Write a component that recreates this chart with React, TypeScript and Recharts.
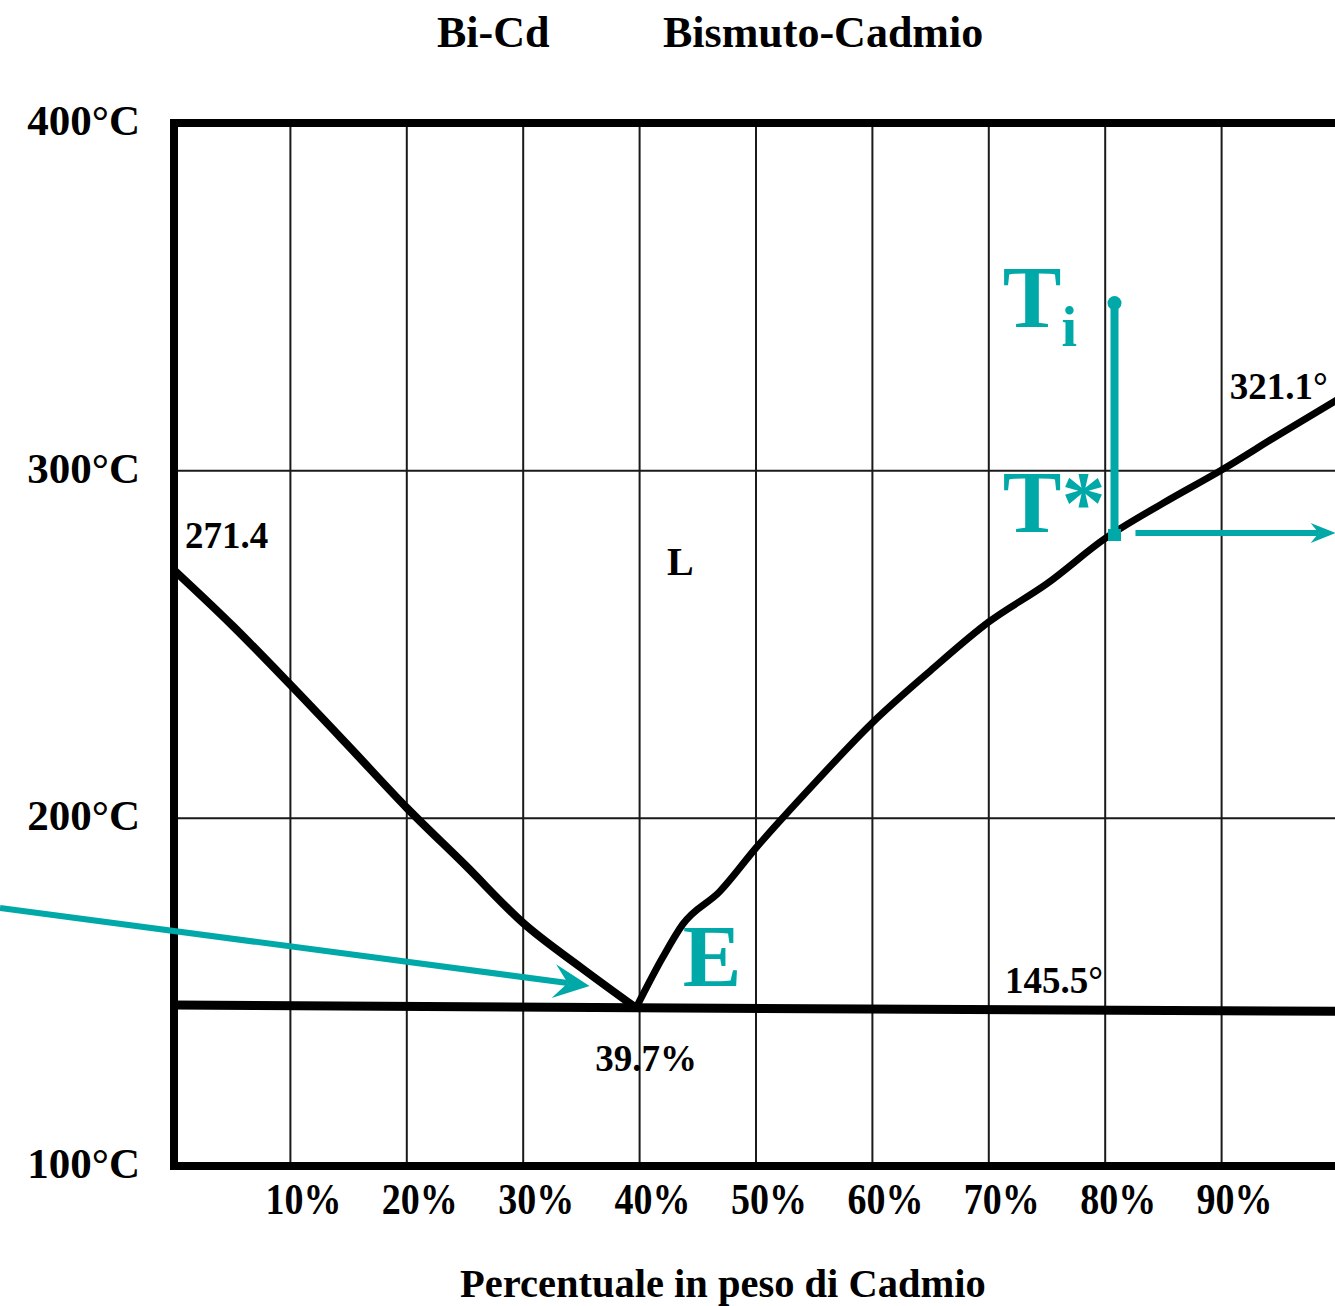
import React from 'react';
import {
  LineChart,
  Line,
  XAxis,
  YAxis,
  CartesianGrid,
  ReferenceLine,
  ReferenceDot,
} from 'recharts';

const FONT = "'Liberation Serif', 'Times New Roman', serif";
const TEAL = '#00a8a8';

// axis ticks
const xTicks = [10, 20, 30, 40, 50, 60, 70, 80, 90];
const yTicks = [100, 200, 300, 400];

// liquidus Bi side (x = % Cd, t = °C)
const leftLiquidus = [
  { x: 0, t: 271.4 },
  { x: 5, t: 255.5 },
  { x: 10, t: 238.4 },
  { x: 15, t: 220.8 },
  { x: 20, t: 203.0 },
  { x: 25, t: 186.6 },
  { x: 30, t: 169.9 },
  { x: 35, t: 157.0 },
  { x: 39.7, t: 145.5 },
];

// liquidus Cd side
const rightLiquidus = [
  { x: 39.7, t: 145.5 },
  { x: 42.0, t: 160.1 },
  { x: 43.7, t: 169.5 },
  { x: 46.9, t: 179.0 },
  { x: 50, t: 191.5 },
  { x: 55, t: 210.0 },
  { x: 60, t: 227.5 },
  { x: 65, t: 242.5 },
  { x: 70, t: 256.5 },
  { x: 75, t: 267.5 },
  { x: 80, t: 280.5 },
  { x: 85, t: 290.7 },
  { x: 90, t: 300.2 },
  { x: 95, t: 310.5 },
  { x: 100, t: 320.5 },
];

// eutectic horizontal
const eutecticLine = [
  { x: 0, t: 146.3 },
  { x: 39.7, t: 145.5 },
  { x: 100, t: 144.5 },
];

// teal annotations
const coolingPath = [
  { x: 80.8, t: 348.2 },
  { x: 80.8, t: 281.5 },
];
const exitArrow = [
  { x: 82.6, t: 282.1 },
  { x: 99.8, t: 282.1 },
];
const eutecticArrow = [
  { x: -14.95, t: 174.2 },
  { x: 35.7, t: 151.8 },
];

const annotations = [
  { text: '271.4', x: 0.95, t: 277.8, size: 37, color: '#000' },
  { text: '321.1°', x: 90.7, t: 320.6, size: 37, color: '#000' },
  { text: '145.5°', x: 71.4, t: 149.8, size: 37, color: '#000' },
  { text: '39.7%', x: 36.2, t: 127.4, size: 37, color: '#000' },
  { text: 'L', x: 42.35, t: 270.0, size: 40, color: '#000' },
  { text: 'E', x: 43.7, t: 151.8, size: 88, color: TEAL },
  { text: 'T', sub: 'i', x: 71.2, t: 341.3, size: 88, color: TEAL },
  { text: 'T*', x: 71.2, t: 282.4, size: 88, color: TEAL },
];

function unit(x1: number, y1: number, x2: number, y2: number) {
  const d = Math.hypot(x2 - x1, y2 - y1) || 1;
  return [(x2 - x1) / d, (y2 - y1) / d];
}

const makeArrow = (len: number, half: number, notch: number, width: number) => (props: any) => {
  const { x1, y1, x2, y2 } = props;
  const [ux, uy] = unit(x1, y1, x2, y2);
  const px = -uy;
  const py = ux;
  const bx = x2 - ux * len;
  const by = y2 - uy * len;
  const nx = x2 - ux * (len - notch);
  const ny = y2 - uy * (len - notch);
  const d = `M${x2},${y2} L${bx + px * half},${by + py * half} L${nx},${ny} L${bx - px * half},${by - py * half} Z`;
  return (
    <g>
      <line x1={x1} y1={y1} x2={nx} y2={ny} stroke={TEAL} strokeWidth={width} />
      <path d={d} fill={TEAL} />
    </g>
  );
};

const CoolingShape = (props: any) => {
  const { x1, y1, x2, y2 } = props;
  return (
    <g>
      <line x1={x1} y1={y1} x2={x2} y2={y2} stroke={TEAL} strokeWidth={8} />
      <circle cx={x1} cy={y1} r={7} fill={TEAL} />
      <rect x={x2 - 6.5} y={y2 - 6} width={13} height={12} fill={TEAL} />
    </g>
  );
};

const XTick = (props: any) => {
  const { x, y, payload } = props;
  return (
    <text
      x={x + 13}
      y={y + 48}
      textAnchor="middle"
      fontFamily={FONT}
      fontWeight="bold"
      fontSize={44}
      textLength={76}
      lengthAdjust="spacingAndGlyphs"
      fill="#000"
    >
      {`${payload.value}%`}
    </text>
  );
};

const YTick = (props: any) => {
  const { x, y, payload } = props;
  return (
    <text
      x={x - 34}
      y={y + 12}
      textAnchor="end"
      fontFamily={FONT}
      fontWeight="bold"
      fontSize={43}
      fill="#000"
    >
      {`${payload.value}°C`}
    </text>
  );
};

const annotationShape = (a: any) => (p: any) => (
  <text x={p.cx} y={p.cy} fontFamily={FONT} fontWeight="bold" fontSize={a.size} fill={a.color}>
    {a.text}
    {a.sub ? (
      <tspan fontSize={56} dy={19}>
        {a.sub}
      </tspan>
    ) : null}
  </text>
);

export default function App() {
  return (
    <div
      style={{
        position: 'absolute',
        left: 0,
        top: 0,
        width: 1335,
        height: 1306,
        overflow: 'hidden',
        background: '#fff',
      }}
    >
      <LineChart width={1345} height={1306} margin={{ top: 123, right: 7, bottom: 80, left: 114 }}>
        <CartesianGrid stroke="#1a1a1a" strokeWidth={2} />
        <XAxis
          type="number"
          dataKey="x"
          domain={[0, 100]}
          ticks={xTicks}
          tick={XTick}
          axisLine={false}
          tickLine={false}
          tickSize={0}
          tickMargin={0}
          height={60}
        />
        <YAxis
          type="number"
          dataKey="t"
          domain={[100, 400]}
          ticks={yTicks}
          tick={YTick}
          axisLine={false}
          tickLine={false}
          tickSize={0}
          tickMargin={0}
          width={60}
        />

        <ReferenceLine y={400} stroke="#000" strokeWidth={8} strokeLinecap="square" />
        <ReferenceLine y={100} stroke="#000" strokeWidth={8} strokeLinecap="square" />
        <ReferenceLine x={0} stroke="#000" strokeWidth={8} strokeLinecap="square" />

        <Line data={eutecticLine} dataKey="t" type="linear" stroke="#000" strokeWidth={9} dot={false} activeDot={false} isAnimationActive={false} />
        <Line data={leftLiquidus} dataKey="t" type="monotone" stroke="#000" strokeWidth={8} dot={false} activeDot={false} isAnimationActive={false} />
        <Line data={rightLiquidus} dataKey="t" type="monotone" stroke="#000" strokeWidth={7} dot={false} activeDot={false} isAnimationActive={false} />

        <ReferenceLine
          segment={[{ x: eutecticArrow[0].x, y: eutecticArrow[0].t }, { x: eutecticArrow[1].x, y: eutecticArrow[1].t }]}
          ifOverflow="visible"
          shape={makeArrow(36, 17, 14, 6)}
        />
        <ReferenceLine
          segment={[{ x: coolingPath[0].x, y: coolingPath[0].t }, { x: coolingPath[1].x, y: coolingPath[1].t }]}
          ifOverflow="visible"
          shape={CoolingShape}
        />
        <ReferenceLine
          segment={[{ x: exitArrow[0].x, y: exitArrow[0].t }, { x: exitArrow[1].x, y: exitArrow[1].t }]}
          ifOverflow="visible"
          shape={makeArrow(25, 10, 8, 6)}
        />

        {annotations.map((a, i) => (
          <ReferenceDot key={i} x={a.x} y={a.t} r={1} ifOverflow="visible" shape={annotationShape(a)} />
        ))}
      </LineChart>

      <svg
        width={1335}
        height={1306}
        style={{ position: 'absolute', left: 0, top: 0, pointerEvents: 'none' }}
      >
        <text x={437} y={47} fontFamily={FONT} fontWeight="bold" fontSize={44} fill="#000">
          Bi-Cd
        </text>
        <text x={663} y={47} fontFamily={FONT} fontWeight="bold" fontSize={44} fill="#000">
          Bismuto-Cadmio
        </text>
        <text x={460} y={1297} fontFamily={FONT} fontWeight="bold" fontSize={40.5} fill="#000">
          Percentuale in peso di Cadmio
        </text>
      </svg>
    </div>
  );
}
